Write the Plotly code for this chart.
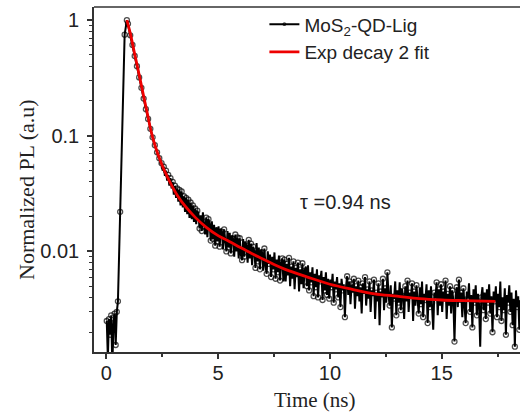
import math
import plotly.graph_objects as go

# ---- Measured PL decay (time in ns, normalized intensity) ----
rise_time = [0.02, 0.07, 0.12, 0.17, 0.22, 0.27, 0.32, 0.37, 0.42, 0.47, 0.52, 0.62, 0.82, 0.92]
rise_values = [0.0025, 0.0012, 0.0026, 0.0019, 0.0028, 0.0010, 0.0024, 0.0029, 0.00155, 0.0030,
               0.0037, 0.022, 0.75, 1.0]

decay_start = 0.97
decay_step = 0.05
decay_values = [
    # 0.97 - 1.92
    0.93, 0.83, 0.74, 0.66, 0.61, 0.54, 0.49, 0.44, 0.40, 0.36,
    0.32, 0.29, 0.26, 0.235, 0.21, 0.19, 0.17, 0.155, 0.14, 0.126,
    # 1.97 - 2.92
    0.115, 0.104, 0.097, 0.088, 0.083, 0.075, 0.072, 0.066, 0.064, 0.058,
    0.058, 0.050, 0.054, 0.045, 0.050, 0.041, 0.046, 0.037, 0.043, 0.035,
    # 2.97 - 3.92
    0.040, 0.031, 0.037, 0.029, 0.035, 0.027, 0.034, 0.025, 0.033, 0.024,
    0.030, 0.022, 0.029, 0.021, 0.028, 0.0195, 0.0265, 0.019, 0.025, 0.018,
    # 3.97 - 4.92
    0.0235, 0.0172, 0.0225, 0.0212, 0.0158, 0.0205, 0.0150, 0.0218, 0.0165, 0.0140,
    0.0196, 0.0133, 0.0190, 0.0176, 0.0124, 0.0182, 0.0128, 0.0170, 0.0112, 0.0162,
    # 4.97 - 5.92
    0.0122, 0.0165, 0.0110, 0.0158, 0.0148, 0.0104, 0.0155, 0.0112, 0.0100, 0.0150,
    0.0108, 0.0145, 0.0096, 0.0138, 0.0128, 0.0090, 0.0140, 0.0100, 0.0132, 0.0087,
    # 5.97 - 6.92
    0.0130, 0.0093, 0.0084, 0.0128, 0.0090, 0.0122, 0.0112, 0.0080, 0.0126, 0.0087,
    0.0117, 0.0076, 0.0110, 0.0100, 0.0072, 0.0118, 0.0082, 0.0108, 0.0070, 0.0104,
    # 6.97 - 7.92
    0.0098, 0.0068, 0.0106, 0.0075, 0.0064, 0.0100, 0.0078, 0.0094, 0.0060, 0.0090,
    0.0070, 0.0098, 0.0058, 0.0085, 0.0066, 0.0092, 0.0056, 0.0080, 0.0087, 0.0055,
    # 7.97 - 8.92
    0.0085, 0.0055, 0.0078, 0.0062, 0.0088, 0.0050, 0.0074, 0.0058, 0.0082, 0.0047,
    0.0072, 0.0060, 0.0080, 0.0045, 0.0070, 0.0052, 0.0079, 0.0048, 0.0068, 0.0074,
    # 8.97 - 9.92
    0.0050, 0.0076, 0.0046, 0.0066, 0.0054, 0.0073, 0.0041, 0.0064, 0.0049, 0.0070,
    0.0040, 0.0062, 0.0055, 0.0068, 0.0038, 0.0060, 0.0046, 0.0066, 0.0042, 0.0058,
    # 9.97 - 10.92
    0.0039, 0.0057, 0.0049, 0.0064, 0.0036, 0.0055, 0.0047, 0.0060, 0.0040, 0.0053,
    0.0033, 0.0058, 0.0046, 0.0052, 0.0027, 0.0050, 0.0061, 0.0042, 0.0055, 0.0035,
    # 10.97 - 11.92
    0.0052, 0.0044, 0.0058, 0.0032, 0.0050, 0.0041, 0.0056, 0.0037, 0.0049, 0.0029,
    0.0053, 0.0043, 0.0060, 0.0034, 0.0047, 0.0039, 0.0055, 0.0030, 0.0046, 0.0041,
    # 11.97 - 12.92
    0.0057, 0.0026, 0.0044, 0.0037, 0.0053, 0.0023, 0.0045, 0.0040, 0.0058, 0.0031,
    0.0048, 0.0036, 0.0066, 0.0042, 0.0034, 0.0051, 0.0022, 0.0043, 0.0039, 0.0055,
    # 12.97 - 13.92
    0.0028, 0.0046, 0.0036, 0.0054, 0.0031, 0.0048, 0.0041, 0.0026, 0.0050, 0.0037,
    0.0056, 0.0030, 0.0044, 0.0039, 0.0053, 0.0025, 0.0045, 0.0034, 0.0051, 0.0038,
    # 13.97 - 14.92
    0.0029, 0.0049, 0.0035, 0.0055, 0.0027, 0.0043, 0.0038, 0.0052, 0.0024, 0.0046,
    0.0033, 0.0050, 0.0036, 0.0021, 0.0044, 0.0039, 0.0054, 0.0028, 0.0047, 0.0034,
    # 14.97 - 15.92
    0.0052, 0.0030, 0.0045, 0.0037, 0.0056, 0.0026, 0.0043, 0.0034, 0.0050, 0.0029,
    0.0046, 0.0038, 0.00166, 0.0041, 0.0049, 0.0033, 0.0057, 0.0036, 0.0044, 0.0027,
    # 15.97 - 16.92
    0.0048, 0.0035, 0.0024, 0.0045, 0.0039, 0.0053, 0.0030, 0.0042, 0.0022, 0.0047,
    0.0036, 0.0051, 0.0028, 0.0043, 0.0034, 0.0015, 0.0040, 0.0049, 0.0031, 0.0044,
    # 16.97 - 17.92
    0.0026, 0.0047, 0.0036, 0.0052, 0.0029, 0.0041, 0.0020, 0.0045, 0.0037, 0.0050,
    0.0027, 0.0043, 0.0033, 0.0055, 0.0025, 0.0040, 0.0031, 0.0048, 0.0019, 0.0042,
    # 17.97 - 18.52
    0.0036, 0.0051, 0.0030, 0.0044, 0.0023, 0.0039, 0.0015, 0.0046, 0.0033, 0.0041,
    0.0021, 0.0038,
]
decay_time = [round(decay_start + i * decay_step, 2) for i in range(len(decay_values))]

pl_time = rise_time + decay_time
pl_values = rise_values + decay_values

# ---- Exp decay 2 fit curve ----
fit_time = [0.92, 1.1, 1.25, 1.4, 1.55, 1.7, 1.85, 2.0, 2.2, 2.4, 2.6, 2.9, 3.2, 3.5,
            4.0, 4.5, 5.0, 5.5, 6.0, 6.5, 7.0, 7.5, 8.0, 9.0, 10.0, 11.0, 12.0,
            13.0, 14.0, 15.0, 16.0, 17.4]
fit_values = [1.0, 0.73, 0.53, 0.39, 0.284, 0.207, 0.151, 0.11, 0.08, 0.062, 0.050,
              0.038, 0.030, 0.025, 0.0195, 0.016, 0.0137, 0.0122, 0.0108, 0.0096,
              0.0086, 0.0077, 0.0070, 0.0060, 0.0052, 0.0047, 0.0043, 0.0041,
              0.0039, 0.0038, 0.00375, 0.0037]

x_ticks = [0, 5, 10, 15]
y_ticks = [0.01, 0.1, 1]
y_tick_text = ["0.01", "0.1", "1"]

tau_label = "τ =0.94 ns"
tau_pos = (10.7, 0.027)

TXT = "#222"
AX = "#333"
SERIF = "Liberation Serif, Times New Roman, serif"

# symbols drawn on the rise points and on every second decay point
marker_sizes = [5] * len(rise_values) + [5 if i % 2 == 0 else 0 for i in range(len(decay_values))]

fig = go.Figure()
fig.add_trace(go.Scatter(
    x=pl_time, y=pl_values, mode="lines+markers",
    name="MoS<sub>2</sub>-QD-Lig",
    line=dict(color="black", width=2.0),
    marker=dict(symbol="circle-open", size=marker_sizes, color="black", line=dict(width=1.3)),
))
fig.add_trace(go.Scatter(
    x=fit_time, y=fit_values, mode="lines", name="Exp decay 2 fit",
    line=dict(color="#ee0000", width=2.8, shape="spline"),
))

fig.update_layout(
    width=520, height=412,
    margin=dict(l=94, r=0, t=7, b=60),
    paper_bgcolor="white", plot_bgcolor="white",
    font=dict(family="Liberation Sans, Arial", size=19, color=TXT),
    showlegend=True,
    legend=dict(x=0.40, y=1.005, xanchor="left", yanchor="top",
                bgcolor="rgba(0,0,0,0)", font=dict(size=19, color=TXT),
                tracegroupgap=0),
    annotations=[
        dict(text=tau_label, x=tau_pos[0], y=math.log10(tau_pos[1]), xref="x", yref="y",
             showarrow=False, font=dict(size=20, color=TXT)),
        dict(text="Time (ns)", x=0.519, y=-0.139, xref="paper", yref="paper",
             xanchor="center", yanchor="middle", showarrow=False,
             font=dict(family=SERIF, size=21, color=TXT)),
        dict(text="Normalized PL (a.u)", x=-0.157, y=0.47, xref="paper", yref="paper",
             xanchor="center", yanchor="middle", textangle=-90, showarrow=False,
             font=dict(family=SERIF, size=22, color=TXT)),
    ],
    shapes=[dict(type="line", xref="paper", yref="paper", x0=0, x1=1, y0=1, y1=1,
                 line=dict(color=AX, width=1.6))],
)
fig.update_xaxes(
    range=[-0.55, 18.5], tickvals=x_ticks, ticks="outside", ticklen=5, tickwidth=1.5,
    tickcolor=AX, showline=True, linecolor=AX, linewidth=1.6,
    showgrid=False, zeroline=False, ticklabelstandoff=-3,
    minor=dict(dtick=2.5, tick0=0, ticks="outside", ticklen=3, tickwidth=1.5, tickcolor=AX),
    tickfont=dict(size=20),
)
fig.update_yaxes(
    type="log", range=[-2.87, 0.114], tickvals=y_ticks, ticktext=y_tick_text,
    ticks="outside", ticklen=5, tickwidth=1.5, tickcolor=AX,
    showline=True, linecolor=AX, linewidth=1.6, showgrid=False, zeroline=False,
    ticklabelstandoff=4,
    minor=dict(ticks="outside", ticklen=3, tickwidth=1.2, tickcolor=AX, dtick="D1"),
    tickfont=dict(size=20),
)

fig.write_html("out.html")
